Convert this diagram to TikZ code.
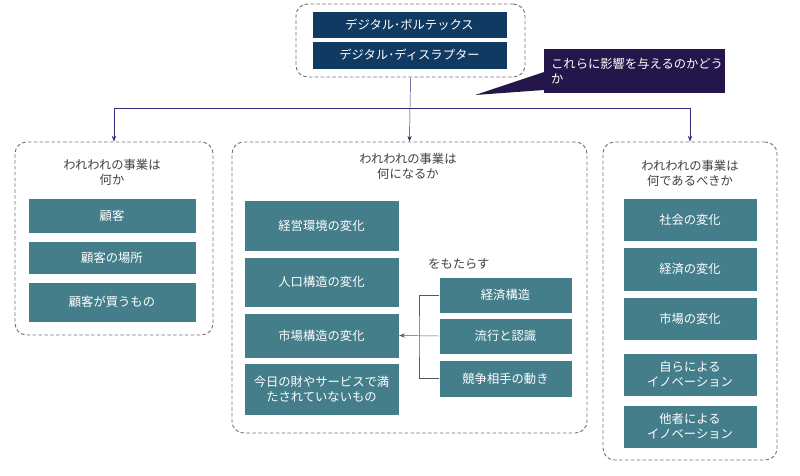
\documentclass[tikz,border=0pt]{standalone}
\usepackage{fontspec}
\setmainfont{Noto Sans CJK JP}
\usepackage{tikz}
\usetikzlibrary{arrows.meta, positioning}
\definecolor{topnavy}{RGB}{17, 58, 99}
\definecolor{boxteal}{RGB}{69, 126, 139}
\definecolor{notepurple}{RGB}{36, 22, 74}
\definecolor{linkpurple}{RGB}{52, 44, 120}

\begin{document}
\begin{tikzpicture}[x=0.03cm, y=-0.03cm, >=Stealth,
    font=\fontsize{10.5}{13}\selectfont,
    group/.style={draw=black!55, dash pattern=on 3pt off 2pt, rounded corners=10pt, line width=0.8pt},
    title/.style={text=black!75, align=center},
    topbox/.style={fill=topnavy, text=white, draw=white, inner sep=0pt},
    box/.style={fill=boxteal, text=white, draw=white, align=center, inner sep=0pt}]
  \useasboundingbox (0,0) rectangle (800,476);

  \node[group, minimum width=6.87cm, minimum height=2.19cm] (topgrp) at (410.5, 40.5) {};
  \node[topbox, minimum width=5.85cm, minimum height=0.81cm] (vortex)  at (409.5, 24.5) {デジタル･ボルテックス};
  \node[topbox, minimum width=5.85cm, minimum height=0.84cm] (disrupt) at (409.5, 55)   {デジタル･ディスラプター};

  \node[fill=notepurple, text=white, minimum width=5.43cm, minimum height=1.32cm,
        text width=5.0cm, align=left] (note) at (634.5, 71) {これらに影響を与えるのかどう\\か};
  \coordinate (tip) at (475, 95);
  \fill[notepurple] (544, 72) -- (tip) -- (544, 90) -- cycle;

  \node[group, minimum width=5.94cm,  minimum height=5.79cm] (grpL) at (114, 238.5) {};
  \node[group, minimum width=10.65cm, minimum height=8.73cm] (grpM) at (409.5, 287.5) {};
  \node[group, minimum width=5.22cm,  minimum height=9.54cm] (grpR) at (690, 301) {};

  \coordinate (split) at (410, 108);
  \draw[linkpurple] (topgrp.south) -- (split);
  \draw[->, linkpurple] (split) -| (grpL.north);
  \draw[->, linkpurple] (split) -- (grpM.north);
  \draw[->, linkpurple] (split) -| (grpR.north);

  \node[title] (titleL) at (112, 172) {われわれの事業は\\何か};
  \node[box, minimum width=5.04cm, minimum height=1.05cm] (cust)  at (112, 215.5) {顧客};
  \node[box, minimum width=5.04cm, minimum height=0.99cm] (place) at (112, 257.5) {顧客の場所};
  \node[box, minimum width=5.04cm, minimum height=1.2cm]  (buy)   at (112, 302)   {顧客が買うもの};

  \node[title] (titleM) at (408, 166) {われわれの事業は\\何になるか};
  \node[box, minimum width=4.65cm, minimum height=1.53cm] (env)    at (321.5, 225.5) {経営環境の変化};
  \node[box, minimum width=4.65cm, minimum height=1.5cm]  (pop)    at (321.5, 282)   {人口構造の変化};
  \node[box, minimum width=4.65cm, minimum height=1.35cm] (market) at (321.5, 335.5) {市場構造の変化};
  \node[box, minimum width=4.65cm, minimum height=1.56cm] (unmet)  at (321.5, 389)   {今日の財やサービスで満\\たされていないもの};
  \node[box, minimum width=3.99cm, minimum height=1.08cm] (econ)   at (505.5, 295)   {経済構造};
  \node[box, minimum width=3.99cm, minimum height=1.08cm] (trend)  at (505.5, 336)   {流行と認識};
  \node[box, minimum width=3.99cm, minimum height=1.11cm] (rival)  at (505.5, 378.5) {競争相手の動き};
  \node[text=black!75, anchor=west, inner sep=0pt] (bring) at (428, 264) {をもたらす};
  \coordinate (bracket) at (419, 336);
  \draw[black!65] (econ.west) -| (bracket) |- (rival.west);
  \draw[->, black!65] (trend.west) -- (market.east);

  \node[title] (titleR) at (690, 173) {われわれの事業は\\何であるべきか};
  \node[box, minimum width=4.02cm, minimum height=1.29cm] (society) at (690, 219.5) {社会の変化};
  \node[box, minimum width=4.02cm, minimum height=1.32cm] (economy) at (690, 269)   {経済の変化};
  \node[box, minimum width=4.02cm, minimum height=1.29cm] (markets) at (690, 318.5) {市場の変化};
  \node[box, minimum width=4.02cm, minimum height=1.29cm] (innovA)  at (690, 374.5) {自らによる\\イノベーション};
  \node[box, minimum width=4.02cm, minimum height=1.29cm] (innovB)  at (690, 426.5) {他者による\\イノベーション};
\end{tikzpicture}
\end{document}
